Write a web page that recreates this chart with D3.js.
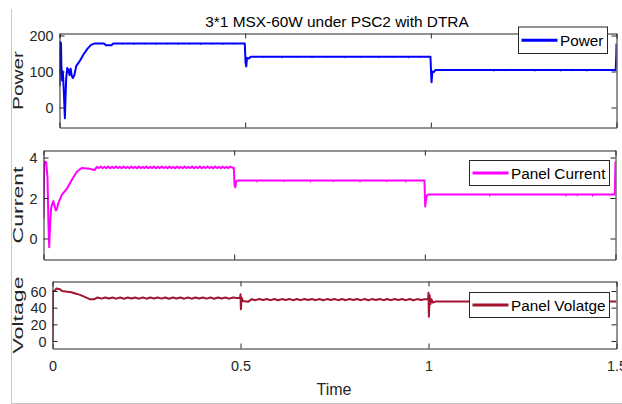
<!DOCTYPE html>
<html>
<head>
<meta charset="utf-8">
<script src="https://cdn.jsdelivr.net/npm/d3@7"></script>
<style>
  html, body { margin: 0; padding: 0; background: #fff; }
  svg { display: block; font-family: "Liberation Sans", Arial, sans-serif; }
</style>
</head>
<body>
<svg id="chart" width="622" height="404"></svg>
<script>
// ---- data -------------------------------------------------------------
const chartTitle = "3*1 MSX-60W under PSC2 with DTRA";
const xTicks = [0, 0.5, 1, 1.5];
const xTickLabels = ["0", "0.5", "1", "1.5"];

// Power (W)
const powerT = [0, 0.002, 0.004, 0.005, 0.007, 0.009, 0.011, 0.013, 0.0145, 0.016, 0.018, 0.021, 0.024, 0.027, 0.030, 0.033, 0.036, 0.040, 0.045, 0.055, 0.065, 0.075, 0.085, 0.095, 0.12, 0.125, 0.14, 0.145,
  0.499, 0.501, 0.503, 0.505, 0.51, 0.515,
  0.999, 1.001, 1.002, 1.004, 1.008, 1.012,
  1.498, 1.4995, 1.5];
const powerV = [60, 182, 178, 120, 75, 100, 60, 10, -30, 20, 80, 110, 105, 90, 108, 88, 82, 90, 115, 130, 148, 163, 174, 178, 178, 173, 173, 178,
  178, 125, 114, 138, 136, 141,
  141, 90, 70, 100, 98, 104,
  104, 150, 178];
// short downward ripple spikes: time, level, low point
const powerSpikes = [
  [0.17, 178, 175], [0.2, 178, 174], [0.23, 178, 175], [0.26, 178, 174], [0.29, 178, 175], [0.32, 178, 174],
  [0.35, 178, 175], [0.38, 178, 174], [0.41, 178, 175], [0.44, 178, 174], [0.47, 178, 175],
  [0.55, 141, 138], [0.6, 141, 137], [0.64, 141, 138], [0.68, 141, 137], [0.72, 141, 138], [0.77, 141, 137],
  [0.81, 141, 138], [0.86, 141, 137], [0.9, 141, 138], [0.94, 141, 137], [0.97, 141, 138],
  [1.17, 104, 100], [1.2, 104, 101], [1.28, 104, 100], [1.31, 104, 101], [1.35, 104, 100],
  [1.38, 104, 101], [1.42, 104, 100], [1.45, 104, 101]
];

// Panel current (A)
const currentStartT = [0, 0.002, 0.007, 0.0105, 0.013, 0.015, 0.0176, 0.02, 0.0236, 0.026, 0.029, 0.0325, 0.035, 0.039, 0.048, 0.061, 0.0745, 0.0876, 0.1, 0.122, 0.134];
const currentStartV = [1.0, 3.8, 3.77, 3.0, 0.64, -0.43, 0.8, 1.5, 1.75, 1.85, 1.6, 1.38, 1.45, 1.75, 2.15, 2.45, 2.9, 3.3, 3.48, 3.44, 3.38];
const currentRippleT0 = 0.14, currentRippleStep = 0.005;
const currentRippleV = [
  3.54, 3.48, 3.55, 3.47, 3.54, 3.48, 3.55, 3.47, 3.54, 3.48, 3.55, 3.48, 3.54, 3.47, 3.55, 3.48, 3.54, 3.47,
  3.55, 3.48, 3.54, 3.47, 3.55, 3.48, 3.54, 3.48, 3.55, 3.47, 3.54, 3.48, 3.55, 3.47, 3.54, 3.48, 3.55, 3.48,
  3.54, 3.47, 3.55, 3.48, 3.54, 3.47, 3.55, 3.48, 3.54, 3.47, 3.55, 3.48, 3.54, 3.48, 3.55, 3.47, 3.54, 3.48,
  3.55, 3.47, 3.54, 3.48, 3.55, 3.48, 3.54, 3.47, 3.55, 3.48, 3.54, 3.47, 3.55, 3.48, 3.54, 3.48, 3.55, 3.5];
const currentTailT = [0.499, 0.501, 0.503, 0.505, 0.508, 0.999, 1.001, 1.003, 1.005, 1.008, 1.498, 1.5];
const currentTailV = [3.5, 2.65, 2.53, 2.8, 2.86, 2.86, 1.58, 1.9, 2.1, 2.17, 2.17, 3.8];
const currentSpikes = [
  [0.56, 2.86, 2.76], [0.63, 2.86, 2.78], [0.7, 2.86, 2.76], [0.76, 2.86, 2.78], [0.83, 2.86, 2.76], [0.9, 2.86, 2.78], [0.95, 2.86, 2.76],
  [1.17, 2.17, 2.07], [1.37, 2.17, 2.06], [1.4, 2.17, 2.08], [1.44, 2.17, 2.06]
];

// Panel voltage (V)
const voltageStartT = [0, 0.001, 0.006, 0.01, 0.02, 0.025, 0.04, 0.05, 0.065, 0.075, 0.09, 0.1, 0.11];
const voltageStartV = [0, 60, 60, 63, 62, 60, 59, 58.5, 56.5, 55, 52, 50, 50];
const voltageRipple1T0 = 0.12, voltageRipple1Step = 0.01;
const voltageRipple1V = [52.2, 50.8, 52.2, 50.9, 52.1, 50.8, 52.2, 50.7, 52.2, 50.9, 52.1, 50.8, 52.2, 50.8, 52.1, 50.9, 52.2, 50.8, 52.2,
  50.7, 52.2, 50.9, 52.1, 50.8, 52.2, 50.8, 52.1, 50.9, 52.2, 50.8, 52.2, 50.7, 52.2, 50.9, 52.1, 50.8, 52.2, 51.5];
const voltageMidT = [0.499, 0.5, 0.501, 0.503, 0.506, 0.52];
const voltageMidV = [52, 56, 38, 52, 48, 47];
const voltageRipple2T0 = 0.53, voltageRipple2Step = 0.01;
const voltageRipple2V = [50.2, 49.0, 50.4, 49.1, 50.3, 49.0, 50.4, 48.9, 50.3, 49.1, 50.4, 49.0, 50.3, 49.0, 50.4, 49.1, 50.3, 49.0,
  50.4, 48.9, 50.3, 49.1, 50.4, 49.0, 50.3, 49.0, 50.4, 49.1, 50.3, 49.0, 50.4, 48.9, 50.3, 49.1, 50.4, 49.0, 50.3, 49.0,
  50.4, 49.1, 50.3, 49.0, 50.4, 48.9, 50.3, 49.1, 50.0];
const voltageTailT = [0.999, 1.0, 1.001, 1.003, 1.005, 1.008, 1.012, 1.02, 1.5];
const voltageTailV = [50, 58, 29, 55, 44, 50, 46, 47.5, 47.5];

// ---- helpers ----------------------------------------------------------
const pairs = (ts, vs) => ts.map((t, i) => [t, vs[i]]);
const ripple = (t0, step, vs) => vs.map((v, i) => [t0 + i * step, v]);

const powerData = pairs(powerT, powerV);
const currentData = [].concat(
  pairs(currentStartT, currentStartV),
  ripple(currentRippleT0, currentRippleStep, currentRippleV),
  pairs(currentTailT, currentTailV));
const voltageData = [].concat(
  pairs(voltageStartT, voltageStartV),
  ripple(voltageRipple1T0, voltageRipple1Step, voltageRipple1V),
  pairs(voltageMidT, voltageMidV),
  ripple(voltageRipple2T0, voltageRipple2Step, voltageRipple2V),
  pairs(voltageTailT, voltageTailV));

// ---- layout -----------------------------------------------------------
const svg = d3.select("#chart");
const axisColor = "#262626";
const tickFont = 14.4;

// light frame of the figure window
svg.append("line").attr("x1", 11.5).attr("x2", 11.5).attr("y1", 9).attr("y2", 404)
  .attr("stroke", "#c8c8c8").attr("stroke-width", 1);
svg.append("line").attr("x1", 11).attr("x2", 622).attr("y1", 403.5).attr("y2", 403.5)
  .attr("stroke", "#c8c8c8").attr("stroke-width", 1);

const panels = [
  { key: "p", box: { l: 59.5, r: 616.5, t: 33.5, b: 127.5 }, yDomain: [-55.6, 205.6], yTicks: [0, 100, 200],
    data: powerData, spikes: powerSpikes, color: "#0000ff", ylabel: "Power", ylabelLen: 59,
    legend: { text: "Power", x0: 518.5, x1: 607.5, y0: 27, y1: 53.5 }, xLabels: false },
  { key: "c", box: { l: 43.5, r: 615.5, t: 150.5, b: 259.5 }, yDomain: [-1.037, 4.346], yTicks: [0, 2, 4],
    data: currentData, spikes: currentSpikes, color: "#ff00ff", ylabel: "Current", ylabelLen: 77,
    legend: { text: "Panel Current", x0: 469.5, x1: 609.5, y0: 160.5, y1: 185.5 }, xLabels: false },
  { key: "v", box: { l: 52.5, r: 616.5, t: 281.5, b: 348.5 }, yDomain: [-9.0, 71.4], yTicks: [0, 20, 40, 60],
    data: voltageData, spikes: [], color: "#a2142f", ylabel: "Voltage", ylabelLen: 77,
    legend: { text: "Panel Volatge", x0: 469.5, x1: 609.5, y0: 292.5, y1: 317.5 }, xLabels: true }
];

panels.forEach(p => {
  const b = p.box;
  const x = d3.scaleLinear().domain([0, 1.5]).range([b.l, b.r]);
  const y = d3.scaleLinear().domain(p.yDomain).range([b.b, b.t]);
  const g = svg.append("g");

  // clip
  g.append("clipPath").attr("id", "clip-" + p.key)
    .append("rect").attr("x", b.l).attr("y", b.t).attr("width", b.r - b.l).attr("height", b.b - b.t);

  // data line
  const line = d3.line().x(d => x(d[0])).y(d => y(d[1]));
  const plot = g.append("g").attr("clip-path", "url(#clip-" + p.key + ")");
  plot.append("path").datum(p.data).attr("d", line)
    .attr("fill", "none").attr("stroke", p.color).attr("stroke-width", 2).attr("stroke-linejoin", "round");
  plot.selectAll("line.spike").data(p.spikes).join("line").attr("class", "spike")
    .attr("x1", d => x(d[0])).attr("x2", d => x(d[0]))
    .attr("y1", d => y(d[1])).attr("y2", d => y(d[2]))
    .attr("stroke", p.color).attr("stroke-width", 1);

  // axes with inward ticks on all four sides
  const styleAxis = sel => {
    sel.select(".domain").attr("stroke", axisColor);
    sel.selectAll(".tick line").attr("stroke", axisColor);
    sel.selectAll(".tick text").attr("fill", axisColor).attr("font-size", tickFont)
      .attr("font-family", "Liberation Sans, Arial, sans-serif");
  };
  g.append("g").attr("transform", `translate(${b.l},0)`)
    .call(d3.axisLeft(y).tickValues(p.yTicks).tickSize(-5).tickSizeOuter(0).tickPadding(6).tickFormat(d3.format("d")))
    .call(styleAxis)
    .call(s => s.selectAll(".tick text").attr("dy", "0.36em"));
  g.append("g").attr("transform", `translate(${b.r},0)`)
    .call(d3.axisRight(y).tickValues(p.yTicks).tickSize(-5).tickSizeOuter(0).tickFormat(""))
    .call(styleAxis);
  g.append("g").attr("transform", `translate(0,${b.t})`)
    .call(d3.axisTop(x).tickValues(xTicks).tickSize(-5).tickSizeOuter(0).tickFormat(""))
    .call(styleAxis);
  g.append("g").attr("transform", `translate(0,${b.b})`)
    .call(d3.axisBottom(x).tickValues(xTicks).tickSize(-5).tickSizeOuter(0).tickPadding(12)
      .tickFormat((d, i) => p.xLabels ? xTickLabels[i] : ""))
    .call(styleAxis);

  // y label
  const cy = (b.t + b.b) / 2;
  g.append("text")
    .attr("transform", `translate(23,${cy}) rotate(-90)`)
    .attr("text-anchor", "middle")
    .attr("font-size", 14.4)
    .attr("fill", axisColor)
    .attr("textLength", p.ylabelLen)
    .attr("lengthAdjust", "spacingAndGlyphs")
    .text(p.ylabel);

  // legend
  const L = p.legend;
  const lg = svg.append("g");
  lg.append("rect").attr("x", L.x0).attr("y", L.y0).attr("width", L.x1 - L.x0).attr("height", L.y1 - L.y0)
    .attr("fill", "#fff").attr("stroke", axisColor).attr("stroke-width", 1);
  const ly = (L.y0 + L.y1) / 2;
  lg.append("line").attr("x1", L.x0 + 3).attr("x2", L.x0 + 39).attr("y1", ly).attr("y2", ly)
    .attr("stroke", p.color).attr("stroke-width", 3);
  lg.append("text").attr("x", L.x0 + 41.5).attr("y", ly + 5.8)
    .attr("font-size", 15.3).attr("fill", "#000").text(L.text);
});

// title and x label
svg.append("text").attr("x", 337).attr("y", 26.5).attr("text-anchor", "middle")
  .attr("font-size", 15.4).attr("fill", "#000").text(chartTitle);
svg.append("text").attr("x", 334).attr("y", 395).attr("text-anchor", "middle")
  .attr("font-size", 16).attr("fill", axisColor).text("Time");
</script>
</body>
</html>
